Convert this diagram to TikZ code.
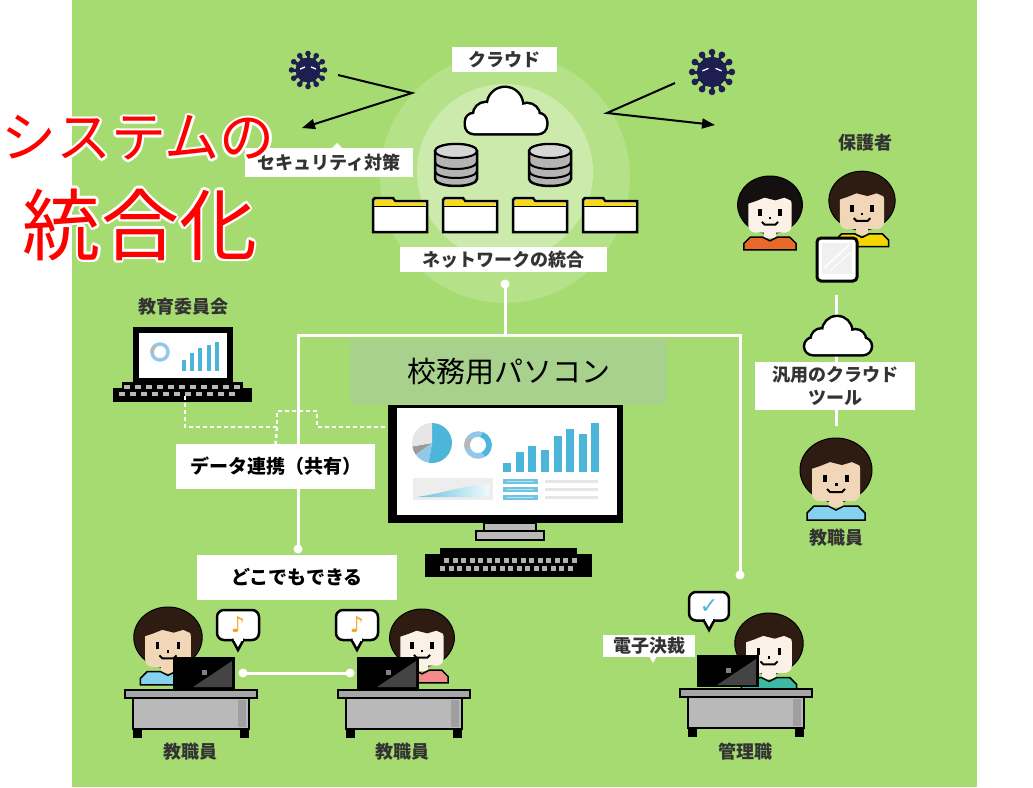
\documentclass[tikz,border=0pt]{standalone}
\usepackage{fontspec}
\newfontfamily\jp{Noto Sans CJK JP}
\newfontfamily\symfont{DejaVu Sans}
\usetikzlibrary{arrows.meta}

\definecolor{field}{HTML}{A5DB70}
\definecolor{pcbox}{HTML}{A9D18E}
\definecolor{labeltxt}{HTML}{333333}
\definecolor{germ}{HTML}{1E1E50}
\definecolor{hairbrown}{HTML}{2E1C12}
\definecolor{hairblack}{HTML}{141010}
\definecolor{skintan}{HTML}{F2D6B8}
\definecolor{skinpale}{HTML}{FBF1E6}
\definecolor{shirtblue}{HTML}{86D2EE}
\definecolor{shirtorange}{HTML}{E8692A}
\definecolor{shirtyellow}{HTML}{F6D600}
\definecolor{shirtpink}{HTML}{F38B8B}
\definecolor{shirtteal}{HTML}{3DB8A2}
\definecolor{chartblue}{HTML}{4BB6D9}
\definecolor{chartlight}{HTML}{92C8EA}
\definecolor{chartpale}{HTML}{E6E6E6}
\definecolor{chartgray}{HTML}{9A9A9A}
\definecolor{folderyellow}{HTML}{F7DA1A}
\definecolor{dbgray}{HTML}{B4B4B4}
\definecolor{dblight}{HTML}{D6D6D6}
\definecolor{desktop}{HTML}{A6A6A6}
\definecolor{deskbody}{HTML}{B9B9B9}
\definecolor{notecol}{HTML}{F2A41E}
\definecolor{laptopgray}{HTML}{444444}

\tikzset{
  % head-and-shoulders figure: #1 shirt, #2 skin, #3 hair
  pics/person/.style n args={3}{code={
    \filldraw[fill=#3, draw=black, line width=1pt] (0,-8) ellipse[x radius=36, y radius=32];
    \fill[#2, rounded corners=7pt] (-24,-17) rectangle (24,23);
    \fill[#3] (-25,-24) -- (25,-24) -- (25,-12) -- (16,-16) -- (6,-13) -- (-6,-16) -- (-16,-12) -- (-25,-9) -- cycle;
    \fill[black] (-13,-3) rectangle (-9,4);
    \fill[black] (9,-3) rectangle (13,4);
    \fill[black] (-1.5,5) rectangle (1.5,8);
    \draw[black, line width=2pt] (-9,11) -- (-6,14) -- (6,14) -- (9,11);
    \fill[#2] (-7,21) rectangle (7,29);
    \filldraw[fill=#1, draw=black, line width=1.5pt] (-29,42) -- (-29,35) -- (-22,28) -- (-8,28) -- (0,32) -- (8,28) -- (22,28) -- (29,35) -- (29,42) -- cycle;
  }},
  % laptop seen from behind, origin top-left
  pics/laptopback/.style={code={
    \fill[black] (0,0) rectangle (62,32);
    \fill[laptopgray] (20,30) -- (59,4) -- (59,30) -- cycle;
    \fill[gray] (29,13) rectangle (34,18);
  }},
  % office desk, origin top-left of the top slab
  pics/desk/.style={code={
    \fill[black] (8,38) rectangle (17,48);
    \fill[black] (115,38) rectangle (124,48);
    \filldraw[fill=deskbody, draw=black, line width=2.5pt] (8,8) rectangle (124,39);
    \fill[gray!75] (113,10) rectangle (121,37);
    \filldraw[fill=desktop, draw=black, line width=2.5pt] (0,0) rectangle (132,8);
  }},
  % speech bubble with a symbol
  pics/bubble/.style={code={
    \filldraw[fill=white, draw=black, line width=2.5pt, rounded corners=7pt] (-21,-20) rectangle (21,10);
    \filldraw[fill=white, draw=black, line width=2.5pt] (-6,9) -- (0,20) -- (6,9);
    \fill[white] (-4.5,7) rectangle (4.5,10.5);
    \node[inner sep=0pt, font=\symfont\fontsize{22}{22}\selectfont] (sym) at (0,-5) {#1};
  }},
  % folder icon, origin top-left
  pics/folder/.style={code={
    \filldraw[fill=white, draw=black, line width=2.5pt] (0,34) -- (0,2) -- (2,0) -- (20,0) -- (22,3) -- (54,3) -- (54,34) -- cycle;
    \fill[folderyellow] (2,2) -- (20,2) -- (21.5,4.5) -- (52,4.5) -- (52,8) -- (2,8) -- cycle;
    \draw[black, line width=1.2pt] (1,8.5) -- (53,8.5);
  }},
  % database cylinder, origin centre
  pics/dbase/.style={code={
    \filldraw[fill=dbgray, draw=black, line width=2.5pt] (-21,-14) -- (-21,14)
      arc[start angle=180, end angle=0, x radius=21, y radius=7] -- (21,-14)
      arc[start angle=0, end angle=-180, x radius=21, y radius=7] -- cycle;
    \filldraw[fill=dblight, draw=black, line width=2pt] (0,-14) ellipse[x radius=21, y radius=7];
    \draw[black, line width=2pt] (-21,-3) arc[start angle=180, end angle=0, x radius=21, y radius=7];
    \draw[black, line width=2pt] (-21,6) arc[start angle=180, end angle=0, x radius=21, y radius=7];
  }},
  % cloud icon, origin centre: black outline first, white body on top
  pics/cloudicon/.style={code={
    \draw[black, line width=5pt, rounded corners=8pt] (-40,3) rectangle (40,22);
    \draw[black, line width=5pt] (-20,4) circle[radius=12];
    \draw[black, line width=5pt] (-1,-6) circle[radius=17];
    \draw[black, line width=5pt] (21,5) circle[radius=12];
    \fill[white, rounded corners=8pt] (-40,3) rectangle (40,22);
    \fill[white] (-20,4) circle[radius=12];
    \fill[white] (-1,-6) circle[radius=17];
    \fill[white] (21,5) circle[radius=12];
  }},
  % virus, origin centre
  pics/germ/.style={code={
    \foreach \a in {0,30,...,330}{
      \draw[germ, line width=3pt] (0,0) -- (\a:16);
      \fill[germ] (\a:16.5) circle[radius=2.8];
    }
    \fill[germ] (0,0) circle[radius=12.5];
    \draw[white, line width=1.3pt] (-8,-1) -- (-3,-3);
    \draw[white, line width=1.3pt] (8,-1) -- (3,-3);
  }}
}

\begin{document}
\begin{tikzpicture}[x=1pt, y=-1pt,
  lbl/.style={fill=white, inner sep=0pt, text=labeltxt, align=center,
    font=\jp\bfseries\fontsize{18}{23}\selectfont},
  lblk/.style={lbl, text=black, font=\jp\bfseries\fontsize{19}{23}\selectfont},
  caption/.style={inner sep=0pt, text=labeltxt, font=\jp\bfseries\fontsize{18}{22}\selectfont},
  wline/.style={white, line width=3pt},
  dotline/.style={white, line width=2.5pt, dash pattern=on 4pt off 3pt},
  germarrow/.style={black, line width=2pt, -{Triangle[length=13pt, width=10pt]}},
  redtitle/.style={inner sep=0pt, text=red},
  halo/.style={inner sep=0pt, text=white}]

\useasboundingbox (0,0) rectangle (1033,787);
\fill[white] (0,0) rectangle (1033,787);
\fill[field] (72,0) rectangle (977,787);

% glow around the cloud system
\fill[white, opacity=0.18] (505,178) circle[radius=125];
\fill[white, opacity=0.3] (505,172) circle[radius=88];

% ---------- connectors ----------
\coordinate (netTail) at (505,284);
\coordinate (busMid) at (505,335);
\coordinate (dropL) at (298,549);
\coordinate (dropR) at (740,575);
\draw[wline] (netTail) -- (busMid);
\draw[wline] (dropL) |- (busMid) -| (dropR);
\foreach \p in {netTail, dropL, dropR} \fill[white] (\p) circle[radius=4.5];

\coordinate (tabBottom) at (836,295);
\coordinate (staffTop) at (836,426);
\draw[wline] (tabBottom) -- (staffTop);

\coordinate (deskLinkL) at (243,673);
\coordinate (deskLinkR) at (350,673);
\draw[wline] (deskLinkL) -- (deskLinkR);
\foreach \p in {deskLinkL, deskLinkR} \fill[white] (\p) circle[radius=4.5];

% ---------- cloud system ----------
\node[lbl, minimum width=105pt, minimum height=25pt] (cloudlbl) at (504.5,59.5) {クラウド};
\pic at (506,111) {cloudicon};
\pic at (456,165) {dbase};
\pic at (550,165) {dbase};
\foreach \fx in {373,443,513,583} \pic at (\fx,198) {folder};
\node[lbl, minimum width=207pt, minimum height=25pt] (netlbl) at (503.5,259.5) {ネットワークの統合};

% viruses and deflected attacks
\pic at (308,70) {germ};
\pic[scale=1.2] at (712,72) {germ};
\coordinate (atkL0) at (338,75);
\coordinate (atkL1) at (412,93);
\coordinate (atkL2) at (302,128);
\draw[germarrow] (atkL0) -- (atkL1) -- (atkL2);
\coordinate (atkR0) at (675,83);
\coordinate (atkR1) at (607,113);
\coordinate (atkR2) at (715,125);
\draw[germarrow] (atkR0) -- (atkR1) -- (atkR2);

\fill[white] (331,149) -- (337,143) -- (343,149) -- cycle;
\node[lbl, minimum width=168pt, minimum height=29pt] (seclbl) at (329,162.5) {セキュリティ対策};

% ---------- parents and cloud tool ----------
\node[caption] (parents) at (865,143) {保護者};
\pic[scale=0.9] at (770,212) {person={shirtorange}{skinpale}{hairblack}};
\pic[scale=0.92] at (862,208) {person={shirtyellow}{skintan}{hairbrown}};
\filldraw[fill=white, draw=black, line width=3pt, rounded corners=4pt] (817,238) rectangle (857,281);
\fill[gray!12] (822,243) rectangle (852,274);
\draw[white, line width=1.5pt] (824,268) -- (849,245);
\draw[white, line width=1pt] (830,271) -- (851,252);

\pic[scale=0.82] at (838,336) {cloudicon};
\node[lbl, minimum width=160pt, minimum height=48pt] (tool) at (835,386) {汎用のクラウド\\ツール};
\pic at (836,478) {person={shirtblue}{skintan}{hairbrown}};
\node[caption] (staffR) at (836,538) {教職員};

% ---------- board of education laptop ----------
\node[caption] (boe) at (183,307) {教育委員会};
\fill[black] (133,327) rectangle (233,383);
\fill[white] (139,333) rectangle (227,378);
\draw[chartlight, line width=3.5pt] (160,352) circle[radius=8];
\draw[chartgray!70, line width=3.5pt] (160,352) ++(170:8) arc[start angle=170, end angle=230, radius=8];
\foreach \bx/\bt in {182/360, 190/353, 198/348, 207/345, 215/342}
  \fill[chartblue] (\bx,\bt) rectangle ++(4,371-\bt);
\fill[black] (122,382) rectangle (243,390);
\fill[black] (113,388) rectangle (252,402);
\foreach \i in {0,...,10} {
  \fill[gray!55] (124+\i*11,385) rectangle ++(6,4);
  \fill[gray!55] (119+\i*11,392) rectangle ++(6,4);
}

\coordinate (boeOut) at (185,396);
\coordinate (dlJoin) at (277,427);
\draw[dotline] (boeOut) -- (185,427) -- (dlJoin) -- (277,411) -- (317,411) -- (317,427) -- (390,427);

\node[lblk, minimum width=199pt, minimum height=45pt] (datalink) at (275.5,466.5) {データ連携（共有）};
\draw[dotline] (dlJoin) -- (datalink.north);
\node[lblk, minimum width=200pt, minimum height=45pt] (anywhere) at (297,577.5) {どこでもできる};

% ---------- school office PC ----------
\node[fill=pcbox, inner sep=0pt, minimum width=317pt, minimum height=64pt,
      font=\jp\fontsize{29}{30}\selectfont, text=black] (pc) at (508.5,372) {校務用パソコン};

\fill[black] (388,405) rectangle (623,523);
\fill[white] (397,408) rectangle (617,515);
% pie chart
\fill[chartblue] (432,443) -- ++(-90:20) arc[start angle=-90, end angle=100, radius=20] -- cycle;
\fill[chartlight] (432,443) -- ++(100:20) arc[start angle=100, end angle=145, radius=20] -- cycle;
\fill[chartgray] (432,443) -- ++(145:20) arc[start angle=145, end angle=170, radius=20] -- cycle;
\fill[chartpale] (432,443) -- ++(170:20) arc[start angle=170, end angle=270, radius=20] -- cycle;
% ring chart
\draw[chartlight, line width=5.5pt] (478,445) circle[radius=11];
\draw[chartblue, line width=5.5pt] (478,445) ++(-70:11) arc[start angle=-70, end angle=60, radius=11];
\draw[chartgray!70, line width=5.5pt] (478,445) ++(160:11) arc[start angle=160, end angle=215, radius=11];
% bar chart
\foreach \bx/\bh in {503/9, 516/20, 528/26, 541/22, 554/36, 566/43, 579/38, 591/49}
  \fill[chartblue] (\bx,472) rectangle ++(8,-\bh);
% area chart
\fill[chartpale!70] (413,478) rectangle (493,500);
\shade[left color=chartblue!85, right color=chartblue!8] (417,497) .. controls (440,494) and (460,486) .. (489,484) -- (489,497) -- cycle;
% list rows
\foreach \ry in {479, 487, 495} {
  \fill[chartblue!80] (503,\ry) rectangle (538,\ry+5);
  \fill[white!60!chartblue] (507,\ry+2) rectangle (534,\ry+3);
  \fill[chartpale] (545,\ry+1) rectangle (598,\ry+4);
}
% stand
\filldraw[fill=gray!55, draw=black, line width=2.5pt] (484,523) rectangle (536,531);
\filldraw[fill=gray!55, draw=black, line width=2.5pt] (476,531) rectangle (544,540);
% keyboard
\fill[black] (440,548) rectangle (577,556);
\fill[black] (425,554) rectangle (592,577);
\foreach \i in {0,...,15} {
  \fill[gray!60] (444+\i*8.5,558) rectangle ++(5,5);
  \fill[gray!60] (440+\i*8.5,566) rectangle ++(5,5);
}

% ---------- staff at desks ----------
\pic[scale=0.95] at (168,645) {person={shirtblue}{skintan}{hairbrown}};
\pic at (173,657) {laptopback};
\pic at (125,690) {desk};
\pic (noteA) at (238,630) {bubble={\color{notecol}♪}};
\node[caption] (staffA) at (190,752) {教職員};

\pic[scale=0.9] at (422,645) {person={shirtpink}{skinpale}{hairbrown}};
\pic at (357,657) {laptopback};
\pic at (338,690) {desk};
\pic (noteB) at (357,630) {bubble={\color{notecol}♪}};
\node[caption] (staffB) at (402,752) {教職員};

\pic[scale=0.95] at (769,651) {person={shirtteal}{skinpale}{hairbrown}};
\pic at (697,655) {laptopback};
\pic at (680,689) {desk};
\pic[scale=0.95] (check) at (709,611) {bubble={\color{chartblue}✓}};
\fill[white] (649,656) -- (653,663) -- (657,656) -- cycle;
\node[lbl, minimum width=92pt, minimum height=22pt] (esign) at (649,646) {電子決裁};
\node[caption] (manager) at (745,752) {管理職};

% ---------- red title with a white halo ----------
\foreach \dx/\dy [count=\k] in {-2.5/0, 2.5/0, 0/-2.5, 0/2.5, -1.8/-1.8, 1.8/1.8, -1.8/1.8, 1.8/-1.8} {
  \node[halo, font=\jp\fontsize{55}{60}\selectfont, xshift=\dx pt, yshift=\dy pt] (haloA\k) at (138,138) {システムの};
  \node[halo, font=\jp\fontsize{78}{80}\selectfont, xshift=\dx pt, yshift=\dy pt] (haloB\k) at (140,225) {統合化};
}
\node[redtitle, font=\jp\fontsize{55}{60}\selectfont] (titleA) at (138,138) {システムの};
\node[redtitle, font=\jp\fontsize{78}{80}\selectfont] (titleB) at (140,225) {統合化};

\end{tikzpicture}
\end{document}
